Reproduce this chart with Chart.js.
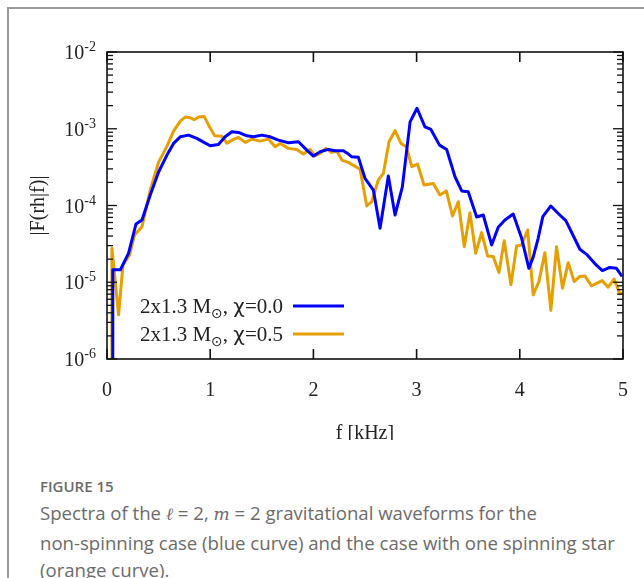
<!DOCTYPE html>
<html>
<head>
<meta charset="utf-8">
<script src="https://cdn.jsdelivr.net/npm/chart.js@4.4.0/dist/chart.umd.min.js"></script>
<style>
  html, body { margin: 0; padding: 0; background: #fff; }
  #frame { position: absolute; left: 7px; top: 7px; width: 650px; height: 600px;
           border-left: 2px solid #9a9a9a; border-top: 2px solid #9a9a9a; }
  #chart { position: absolute; left: 0; top: 0; }
  .cap { position: absolute; left: 40px; color: #6b6b6b; font-family: "Open Sans", sans-serif;
         white-space: nowrap; }
  #fig { top: 476px; font-size: 15px; font-weight: 600; }
  #txt { top: 499px; font-size: 18.6px; line-height: 27.5px; }
  #txt i { font-family: "DejaVu Serif", serif; font-size: 17px; }
</style>
</head>
<body>
<div id="frame"></div>
<canvas id="chart" width="644" height="440"></canvas>
<div class="cap" id="fig">FIGURE 15</div>
<div class="cap" id="txt">Spectra of the <i>ℓ</i> = 2, <i>m</i> = 2 gravitational waveforms for the<br>non-spinning case (blue curve) and the case with one spinning star<br>(orange curve).</div>
<script>
// spectra (f in kHz, |F(rh|f)|)
const blueF = [0.051, 0.056, 0.129, 0.209, 0.281, 0.339, 0.419, 0.5, 0.581, 0.645, 0.71, 0.79, 0.871, 0.935, 1.0,
  1.08, 1.145, 1.21, 1.274, 1.355, 1.419, 1.5, 1.581, 1.661, 1.758, 1.855, 1.936, 2.0, 2.065, 2.145, 2.21, 2.29,
  2.339, 2.372, 2.436, 2.5, 2.581, 2.646, 2.726, 2.791, 2.862, 2.937, 3.004, 3.081, 3.139, 3.222, 3.291, 3.372,
  3.437, 3.5, 3.582, 3.646, 3.727, 3.791, 3.856, 3.936, 4.017, 4.088, 4.129, 4.178, 4.223, 4.301, 4.372, 4.446,
  4.517, 4.582, 4.647, 4.727, 4.8, 4.872, 4.937, 4.991];
const blueAmp = [1e-7, 1.45e-5, 1.45e-5, 2.39e-5, 5.74e-5, 6.47e-5, 1.37e-4, 2.73e-4, 4.54e-4, 6.44e-4, 7.85e-4,
  8.26e-4, 7.48e-4, 6.7e-4, 6.0e-4, 6.25e-4, 7.85e-4, 9.12e-4, 8.95e-4, 8.09e-4, 7.85e-4, 8.26e-4, 7.85e-4,
  7.11e-4, 6.56e-4, 6.76e-4, 5.27e-4, 4.41e-4, 5.01e-4, 5.38e-4, 5.16e-4, 5.16e-4, 4.68e-4, 4.31e-4, 4.24e-4,
  2.26e-4, 1.59e-4, 5.06e-5, 2.42e-4, 7.52e-5, 1.75e-4, 1.23e-3, 1.85e-3, 1.06e-3, 9.8e-4, 6.12e-4, 5.38e-4,
  2.37e-4, 1.55e-4, 1.51e-4, 7.08e-5, 7.52e-5, 3.06e-5, 5.21e-5, 6.47e-5, 7.74e-5, 3.78e-5, 1.52e-5, 2.11e-5,
  3.74e-5, 7.15e-5, 9.86e-5, 7.87e-5, 6.34e-5, 4.07e-5, 2.69e-5, 2.31e-5, 1.75e-5, 1.42e-5, 1.56e-5, 1.52e-5,
  1.19e-5];

const orangeF = [0.046, 0.048, 0.112, 0.155, 0.219, 0.267, 0.339, 0.419, 0.5, 0.581, 0.645, 0.71, 0.758, 0.806,
  0.845, 0.887, 0.942, 0.99, 1.044, 1.113, 1.162, 1.226, 1.274, 1.339, 1.404, 1.484, 1.564, 1.629, 1.678, 1.758,
  1.839, 1.903, 1.968, 2.016, 2.065, 2.12, 2.178, 2.227, 2.275, 2.339, 2.452, 2.517, 2.565, 2.629, 2.678, 2.733,
  2.791, 2.849, 2.9, 2.953, 3.009, 3.072, 3.162, 3.226, 3.288, 3.348, 3.404, 3.462, 3.517, 3.572, 3.63, 3.688,
  3.742, 3.798, 3.849, 3.914, 3.969, 4.017, 4.076, 4.13, 4.185, 4.243, 4.301, 4.356, 4.414, 4.469, 4.527, 4.582,
  4.63, 4.695, 4.798, 4.856, 4.914, 4.969, 4.993];
const orangeAmp = [1e-7, 2.77e-5, 3.77e-6, 1.68e-5, 2.27e-5, 4.13e-5, 5.3e-5, 1.59e-4, 3.68e-4, 5.94e-4, 9.31e-4,
  1.26e-3, 1.42e-3, 1.39e-3, 1.31e-3, 1.42e-3, 1.44e-3, 1.08e-3, 8.13e-4, 8.0e-4, 6.5e-4, 7.26e-4, 7.71e-4,
  6.64e-4, 7.33e-4, 6.9e-4, 7.33e-4, 5.82e-4, 6.44e-4, 5.55e-4, 5.38e-4, 4.68e-4, 5.38e-4, 4.41e-4, 4.77e-4,
  5.55e-4, 4.92e-4, 5.12e-4, 3.91e-4, 3.65e-4, 2.96e-4, 9.86e-5, 1.12e-4, 2.15e-4, 2.62e-4, 6.76e-4, 9.44e-4,
  6.44e-4, 5.85e-4, 3.2e-4, 3.47e-4, 1.85e-4, 1.93e-4, 1.37e-4, 1.55e-4, 7.3e-5, 1.12e-4, 2.91e-5, 8.05e-5,
  2.39e-5, 4.43e-5, 2.2e-5, 2.16e-5, 1.34e-5, 3.48e-5, 9.25e-6, 2.97e-5, 3.06e-5, 4.8e-5, 6.86e-6, 1.02e-5,
  2.43e-5, 4.29e-6, 2.91e-5, 8.38e-6, 1.8e-5, 1.02e-5, 1.19e-5, 1.21e-5, 8.98e-6, 1.05e-5, 8.63e-6, 1.1e-5,
  7.07e-6, 7.2e-6];

const seriesLabels = ['2x1.3 M', '2x1.3 M'];
const spins = ['0.0', '0.5'];
const xTicks = [0, 1, 2, 3, 4, 5];
const yExps = [-6, -5, -4, -3, -2];

const SERIF = '"Liberation Serif", "DejaVu Serif", serif';

function seg(ctx, x1, y1, x2, y2) {
  ctx.beginPath(); ctx.moveTo(x1, y1); ctx.lineTo(x2, y2); ctx.stroke();
}

const axesPlugin = {
  id: 'axesPlugin',
  afterDatasetsDraw(chart) {
    const { ctx, chartArea: a, scales: { x, y } } = chart;
    ctx.save();
    ctx.strokeStyle = '#111';
    ctx.fillStyle = '#222';
    ctx.lineWidth = 1.6;
    ctx.strokeRect(a.left, a.top, a.right - a.left, a.bottom - a.top);

    // x ticks top + bottom, labels below
    ctx.font = '20px ' + SERIF;
    ctx.textAlign = 'center';
    ctx.textBaseline = 'alphabetic';
    xTicks.forEach(v => {
      const px = x.getPixelForValue(v);
      seg(ctx, px, a.top, px, a.top + 10);
      seg(ctx, px, a.bottom, px, a.bottom - 10);
      ctx.fillText(String(v), px, a.bottom + 37);
    });
    ctx.fillText('f [kHz]', (a.left + a.right) / 2, a.bottom + 80);

    // y ticks, major + minor, both sides
    ctx.lineWidth = 1.3;
    yExps.forEach((e, i) => {
      const py = y.getPixelForValue(Math.pow(10, e));
      seg(ctx, a.left, py, a.left + 10, py);
      seg(ctx, a.right, py, a.right - 10, py);
      if (i < yExps.length - 1) {
        for (let m = 2; m <= 9; m++) {
          const pm = y.getPixelForValue(m * Math.pow(10, e));
          seg(ctx, a.left, pm, a.left + 6, pm);
          seg(ctx, a.right, pm, a.right - 6, pm);
        }
      }
      // label 10^e
      ctx.textAlign = 'right';
      ctx.font = '14px ' + SERIF;
      const sup = String(e);
      const sw = ctx.measureText(sup).width;
      ctx.fillText(sup, a.left - 11, py - 1);
      ctx.font = '20px ' + SERIF;
      ctx.fillText('10', a.left - 11 - sw, py + 7);
    });

    // y title
    ctx.save();
    ctx.translate(44, (a.top + a.bottom) / 2);
    ctx.rotate(-Math.PI / 2);
    ctx.textAlign = 'center';
    ctx.font = '20px ' + SERIF;
    ctx.fillText('|F(rh|f)|', 0, 0);
    ctx.restore();

    // legend inside, lower left
    chart.data.datasets.forEach((ds, i) => {
      const ly = 306 + i * 28;
      ctx.strokeStyle = ds.borderColor;
      ctx.lineWidth = 3;
      seg(ctx, 293, ly, 344, ly);
      ctx.textAlign = 'left';
      const parts = [
        [seriesLabels[i], '21px ' + SERIF, 0],
        ['\u2299', '14px "DejaVu Sans"', 5],
        [', ', '21px ' + SERIF, 0],
        ['\u03c7', '20px "DejaVu Sans"', 0],
        ['=' + spins[i], '21px ' + SERIF, 0]
      ];
      let w = 0;
      parts.forEach(p => { ctx.font = p[1]; w += ctx.measureText(p[0]).width; });
      let tx = 283 - w;
      parts.forEach(p => {
        ctx.font = p[1];
        ctx.fillText(p[0], tx, ly + 7 + p[2]);
        tx += ctx.measureText(p[0]).width;
      });
    });
    ctx.restore();
  }
};

new Chart(document.getElementById('chart').getContext('2d'), {
  type: 'line',
  data: {
    datasets: [
      { label: 'chi=0.0', borderColor: '#0000ff', borderWidth: 3,
        data: blueF.map((f, i) => ({ x: f, y: blueAmp[i] })) },
      { label: 'chi=0.5', borderColor: '#e69f00', borderWidth: 3,
        data: orangeF.map((f, i) => ({ x: f, y: orangeAmp[i] })) }
    ]
  },
  options: {
    responsive: false,
    animation: false,
    clip: 0,
    elements: { point: { radius: 0 }, line: { tension: 0, borderJoinStyle: 'round' } },
    layout: { padding: { left: 107, top: 52, right: 21, bottom: 81 } },
    plugins: { legend: { display: false }, tooltip: { enabled: false } },
    scales: {
      x: { type: 'linear', min: 0, max: 5, display: false },
      y: { type: 'logarithmic', min: 1e-6, max: 1e-2, display: false }
    }
  },
  plugins: [axesPlugin]
});
</script>
</body>
</html>
